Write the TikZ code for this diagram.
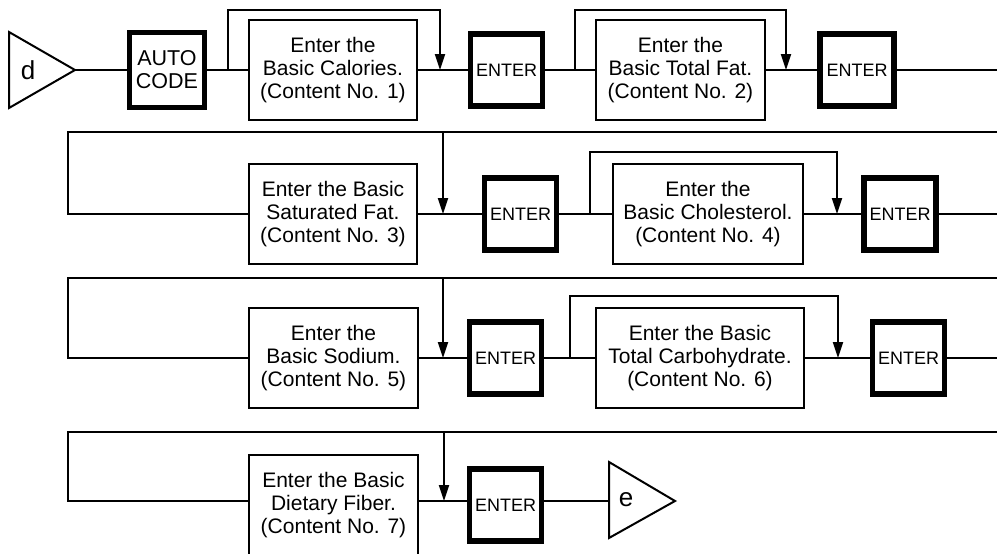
\documentclass[tikz,border=0pt]{standalone}
\usepackage{fontspec}
\setmainfont{Liberation Sans}
\usetikzlibrary{arrows.meta,calc}
\tikzset{
  flowline/.style={line width=2pt},
  flowarrow/.style={line width=2pt,-{Triangle[length=16pt,width=10pt]}},
  content/.style={draw,line width=2pt,minimum height=100pt,inner sep=0pt,align=center,
    font=\fontsize{21}{23}\selectfont},
  keybox/.style={draw,line width=5.5pt,minimum width=72pt,minimum height=72pt,inner sep=0pt,
    align=center,font=\fontsize{18}{21}\selectfont},
  tritext/.style={inner sep=0pt,font=\fontsize{26}{28}\selectfont},
}
\begin{document}
\begin{tikzpicture}[x=1pt,y=-1pt]
\useasboundingbox (0,0) rectangle (997,554);
\clip (0,0) rectangle (997,554);

% ---------- Row 1 ----------
\draw[flowline] (9,32) -- (75,70) -- (9,108) -- cycle;
\coordinate (dtip) at (75,70);
\node[tritext] (dlab) at (28,70) {d};
\node[keybox,minimum width=75pt,minimum height=75pt,font=\fontsize{21.5}{23}\selectfont] (auto) at (167,70) {AUTO\\CODE};
\node[content,minimum width=168pt] (c1) at (333,70) {Enter the\\Basic Calories.\\(Content No. 1)};
\node[keybox] (e1) at (506.5,70) {ENTER};
\node[content,minimum width=169pt] (c2) at (680.5,70) {Enter the\\Basic Total Fat.\\(Content No. 2)};
\node[keybox,minimum width=74pt] (e2) at (857,70) {ENTER};
\coordinate (r1) at (1000,70);
\coordinate (s1) at (228,70);
\coordinate (t1) at (440,70);
\coordinate (s2) at (575,70);
\coordinate (t2) at (786,70);

\draw[flowline] (dtip) -- (auto.west);
\draw[flowline] (auto.east) -- (c1.west);
\draw[flowline] (c1.east) -- (e1.west);
\draw[flowline] (e1.east) -- (c2.west);
\draw[flowline] (c2.east) -- (e2.west);
\draw[flowline] (e2.east) -- (r1);
\draw[flowarrow] (s1) -- ++(0,-60) -| (t1);
\draw[flowarrow] (s2) -- ++(0,-60) -| (t2);

% ---------- Row 2 ----------
\coordinate (r2) at (1000,132);
\coordinate (k2) at (68,132);
\node[content,minimum width=168pt] (c3) at (333,214) {Enter the Basic\\Saturated Fat.\\(Content No. 3)};
\node[keybox] (e3) at (520.5,214) {ENTER};
\node[content,minimum width=190pt] (c4) at (708,214) {Enter the\\Basic Cholesterol.\\(Content No. 4)};
\node[keybox] (e4) at (900,214) {ENTER};
\coordinate (a3) at (443,214);
\coordinate (s4) at (590,214);
\coordinate (t4) at (837,214);
\coordinate (r2b) at (1000,214);

\draw[flowline] (r2) -- (k2) |- (c3.west);
\draw[flowarrow] (a3 |- k2) -- (a3);
\draw[flowline] (c3.east) -- (e3.west);
\draw[flowline] (e3.east) -- (c4.west);
\draw[flowline] (c4.east) -- (e4.west);
\draw[flowline] (e4.east) -- (r2b);
\draw[flowarrow] (s4) -- ++(0,-62) -| (t4);

% ---------- Row 3 ----------
\coordinate (r3) at (1000,278);
\coordinate (k3) at (68,278);
\node[content,minimum width=169pt] (c5) at (333.5,358) {Enter the\\Basic Sodium.\\(Content No. 5)};
\node[keybox] (e5) at (505.5,358) {ENTER};
\node[content,minimum width=208pt] (c6) at (700,358) {Enter the Basic\\Total Carbohydrate.\\(Content No. 6)};
\node[keybox] (e6) at (908.5,358) {ENTER};
\coordinate (a5) at (443,358);
\coordinate (s6) at (570,358);
\coordinate (t6) at (838,358);
\coordinate (r3b) at (1000,358);

\draw[flowline] (r3) -- (k3) |- (c5.west);
\draw[flowarrow] (a5 |- k3) -- (a5);
\draw[flowline] (c5.east) -- (e5.west);
\draw[flowline] (e5.east) -- (c6.west);
\draw[flowline] (c6.east) -- (e6.west);
\draw[flowline] (e6.east) -- (r3b);
\draw[flowarrow] (s6) -- ++(0,-62) -| (t6);

% ---------- Row 4 ----------
\coordinate (r4) at (1000,432);
\coordinate (k4) at (68,432);
\coordinate (m4) at (0,501);
\node[content,minimum width=169pt] (c7) at (333.5,505) {Enter the Basic\\Dietary Fiber.\\(Content No. 7)};
\node[keybox] (e7) at (505.5,505) {ENTER};
\coordinate (a7) at (444,501);
\draw[flowline] (609,462) -- (675,501) -- (609,538) -- cycle;
\coordinate (eleft) at (609,501);
\node[tritext] (elab) at (626,500) {e};

\draw[flowline] (r4) -- (k4) |- (c7.west |- m4);
\draw[flowarrow] (a7 |- k4) -- (a7);
\draw[flowline] (c7.east |- m4) -- (e7.west |- m4);
\draw[flowline] (e7.east |- m4) -- (eleft);
\end{tikzpicture}
\end{document}
